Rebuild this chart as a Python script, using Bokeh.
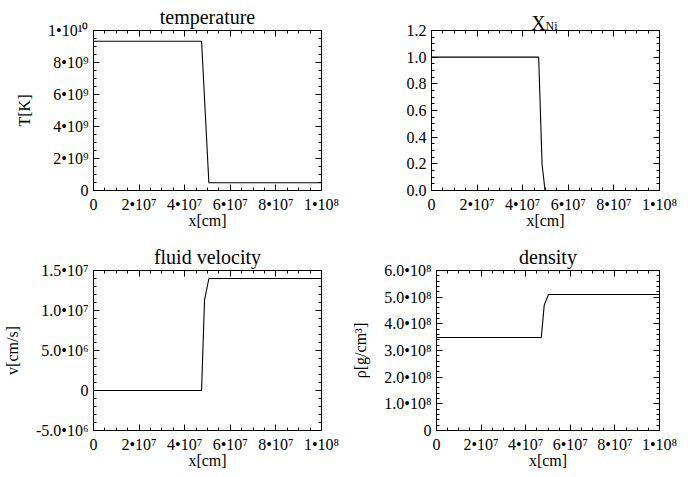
from bokeh.plotting import figure
from bokeh.layouts import column, row
from bokeh.models import LinearAxis, FixedTicker, Label, Range1d
from bokeh.embed import file_html
from bokeh.resources import INLINE

FONT = "Liberation Serif"

# ---------------- data ----------------
x_temp = [0.0, 4.74e7, 5.06e7, 1.0e8]
temperature = [9.33e9, 9.33e9, 4.8e8, 4.8e8]

x_ni = [0.0, 4.70e7, 4.85e7, 4.98e7, 1.0e8]
ni_fraction = [1.0, 1.0, 0.195, 0.0, 0.0]

x_vel = [0.0, 4.74e7, 4.87e7, 5.06e7, 1.0e8]
velocity = [0.0, 0.0, 1.13e7, 1.40e7, 1.40e7]

x_rho = [0.0, 4.70e7, 4.83e7, 5.02e7, 1.0e8]
density = [3.49e8, 3.49e8, 4.70e8, 5.10e8, 5.10e8]

# ---------------- tick values and labels ----------------
x_ticks = [0.0, 2e7, 4e7, 6e7, 8e7, 1e8]
x_tick_labels = ["0", "2\u202210\u2077", "4\u202210\u2077", "6\u202210\u2077", "8\u202210\u2077", "1\u202210\u2078"]

t_ticks = [0.0, 2e9, 4e9, 6e9, 8e9, 1e10]
t_tick_labels = ["0", "2\u202210\u2079", "4\u202210\u2079", "6\u202210\u2079", "8\u202210\u2079", "1\u202210\u00b9\u2070"]

ni_ticks = [0.0, 0.2, 0.4, 0.6, 0.8, 1.0, 1.2]
ni_tick_labels = ["0.0", "0.2", "0.4", "0.6", "0.8", "1.0", "1.2"]

v_ticks = [-5e6, 0.0, 5e6, 1e7, 1.5e7]
v_tick_labels = ["-5.0\u202210\u2076", "0", "5.0\u202210\u2076", "1.0\u202210\u2077", "1.5\u202210\u2077"]

rho_ticks = [0.0, 1e8, 2e8, 3e8, 4e8, 5e8, 6e8]
rho_tick_labels = ["0", "1.0\u202210\u2078", "2.0\u202210\u2078", "3.0\u202210\u2078",
                   "4.0\u202210\u2078", "5.0\u202210\u2078", "6.0\u202210\u2078"]


def minor(ticks, n):
    out = []
    for a, b in zip(ticks[:-1], ticks[1:]):
        step = (b - a) / n
        out += [a + k * step for k in range(1, n)]
    return out


def style_axis(ax):
    ax.axis_line_color = "black"
    ax.axis_line_width = 1
    ax.major_tick_in = 6
    ax.major_tick_out = 0
    ax.minor_tick_in = 3
    ax.minor_tick_out = 0
    ax.major_tick_line_color = "black"
    ax.minor_tick_line_color = "black"
    ax.major_label_text_font = FONT
    ax.major_label_text_font_size = "16px"
    ax.major_label_text_color = "black"
    ax.axis_label_text_font = FONT
    ax.axis_label_text_font_size = "16px"
    ax.axis_label_text_font_style = "normal"
    ax.axis_label_text_color = "black"


def panel(w, h, left, right, top, bottom, xs, ys, yr, yticks, ytick_labels, ynminor,
          ylabel, title):
    p = figure(width=w, height=h, output_backend="svg", toolbar_location=None,
               x_range=Range1d(0, 1e8), y_range=Range1d(*yr),
               min_border_left=left, min_border_right=right,
               min_border_top=top, min_border_bottom=bottom)
    p.grid.visible = False
    p.outline_line_color = "black"
    p.background_fill_color = "white"
    p.border_fill_color = "white"

    xt = FixedTicker(ticks=x_ticks, minor_ticks=minor(x_ticks, 4))
    yt = FixedTicker(ticks=yticks, minor_ticks=minor(yticks, ynminor))

    xa = p.xaxis[0]
    xa.ticker = xt
    xa.major_label_overrides = dict(zip(x_ticks, x_tick_labels))
    xa.axis_label = "x[cm]"
    xa.major_label_standoff = 5
    xa.axis_label_standoff = -4
    style_axis(xa)

    ya = p.yaxis[0]
    ya.ticker = yt
    ya.major_label_overrides = dict(zip(yticks, ytick_labels))
    if ylabel:
        ya.axis_label = ylabel
    ya.major_label_standoff = 5
    ya.axis_label_standoff = 12
    style_axis(ya)

    top_ax = LinearAxis(ticker=xt, major_label_overrides={t: "" for t in x_ticks},
                        major_label_standoff=0)
    style_axis(top_ax)
    top_ax.major_label_text_font_size = "0px"
    p.add_layout(top_ax, "above")

    right_ax = LinearAxis(ticker=yt, major_label_overrides={t: "" for t in yticks},
                          major_label_standoff=0)
    style_axis(right_ax)
    right_ax.major_label_text_font_size = "0px"
    p.add_layout(right_ax, "right")

    p.line(xs, ys, line_color="black", line_width=1.1)

    if title:
        p.title.text = title
        p.title.align = "center"
        p.title.text_font = FONT
        p.title.text_font_size = "20px"
        p.title.text_font_style = "normal"
        p.title.text_color = "black"
        p.title.standoff = 5
    return p


p1 = panel(349, 238, 93, 28, 30, 48, x_temp, temperature, (0, 1e10),
           t_ticks, t_tick_labels, 4, "T[K]", "temperature")
p2 = panel(349, 238, 82, 39, 30, 48, x_ni, ni_fraction, (0, 1.2),
           ni_ticks, ni_tick_labels, 4, None, None)
p3 = panel(349, 239, 93, 28, 32, 47, x_vel, velocity, (-5e6, 1.5e7),
           v_ticks, v_tick_labels, 5, "v[cm/s]", "fluid velocity")
p4 = panel(349, 239, 82, 39, 32, 47, x_rho, density, (0, 6e8),
           rho_ticks, rho_tick_labels, 5, "\u03c1[g/cm\u00b3]", "density")

# X_Ni title: main letter and subscript, placed in a side panel so they are not clipped
p2.add_layout(Label(x=5e7, y=1.2, text="X", text_align="center",
                    text_baseline="alphabetic", y_offset=8, x_offset=-7,
                    text_font=FONT, text_font_size="20px", text_color="black"), "right")
p2.add_layout(Label(x=5e7, y=1.2, text="Ni", text_align="left",
                    text_baseline="alphabetic", y_offset=5, x_offset=0,
                    text_font=FONT, text_font_size="12px", text_color="black"), "right")

layout = column(row(p1, p2), row(p3, p4))
open("out.html", "w").write(file_html(layout, INLINE))
